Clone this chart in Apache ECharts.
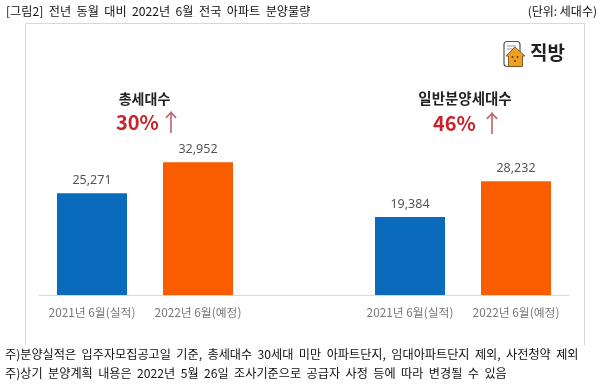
<!DOCTYPE html>
<html><head><meta charset="utf-8">
<style>html,body{margin:0;padding:0;background:#fff}#c{width:600px;height:386px}</style>
<script src="https://cdn.jsdelivr.net/npm/echarts@6/dist/echarts.min.js"></script>
</head><body><div id="c"></div>
<script>
const categories = ['2021년 6월(실적)', '2022년 6월(예정)', '', '2021년 6월(실적)', '2022년 6월(예정)'];
const values = [25271, 32952, null, 19384, 28232];
const barColors = ['#0a6bbd', '#fa5c00', '#fff', '#0a6bbd', '#fa5c00'];
const titleText = '[그림2]  전년  동월  대비  2022년  6월  전국  아파트  분양물량';
const unitText = '(단위: 세대수)';
const noteLines = ['주)분양실적은  입주자모집공고일  기준,  총세대수  30세대  미만  아파트단지,  임대아파트단지  제외,  사전청약  제외',
                   '주)상기  분양계획  내용은  2022년  5월  26일  조사기준으로  공급자  사정  등에  따라  변경될  수  있음'];
const KR = '"Noto Sans CJK KR","Noto Sans",sans-serif';
const chart = echarts.init(document.getElementById('c'), null, {renderer:'canvas'});
function txt(x,y,text,size,color,weight,align){
  return {type:'text',x,y,z:5,style:{text,fontSize:size,fill:color,fontWeight:weight||'normal',fontFamily:KR,
    align:align||'left',verticalAlign:'middle'}};
}
chart.setOption({
  animation:false,
  backgroundColor:'#fff',
  grid:{left:39,right:31,top:134,bottom:91,containLabel:false},
  xAxis:{type:'category',data:categories,
    axisLine:{lineStyle:{color:'#d9d9d9',width:1}},axisTick:{show:false},
    axisLabel:{color:'#777',fontSize:11.8,fontFamily:KR,margin:12,interval:0}},
  yAxis:{type:'value',min:0,max:40000,show:false,splitLine:{show:false}},
  series:[{type:'bar',barWidth:70,
    data:values.map((v,i)=>({value:v,itemStyle:{color:barColors[i]}})),
    label:{show:true,position:'top',distance:6,color:'#555',fontSize:12.5,fontFamily:'"Noto Sans",sans-serif',
      formatter:p=>p.value==null?'':Number(p.value).toLocaleString('en-US')}}],
  graphic:[
    {type:'polyline',z:1,shape:{points:[[25.5,345],[25.5,23.5],[584.5,23.5],[584.5,345]]},style:{fill:null,stroke:'#d8d8d8',lineWidth:1}},
    txt(6,11,titleText,12.15,'#111'),
    txt(597,11,unitText,12,'#111',null,'right'),
    // logo
    {type:'rect',z:5,shape:{x:504,y:41.5,width:16,height:25,r:3},style:{fill:'#fff',stroke:'#555',lineWidth:1.2}},
    {type:'line',z:5,shape:{x1:507,y1:46,x2:516,y2:46},style:{stroke:'#999',lineWidth:1}},
    {type:'line',z:5,shape:{x1:507,y1:49,x2:513,y2:49},style:{stroke:'#999',lineWidth:1}},
    {type:'polygon',z:6,shape:{points:[[515,47],[525,56],[522.5,56],[522.5,66.5],[508.5,66.5],[508.5,56],[506,56]]},style:{fill:'#f0a020',stroke:'#6b5320',lineWidth:.9,lineJoin:'round'}},
    {type:'circle',z:7,shape:{cx:512.5,cy:57,r:1},style:{fill:'#5a3c10'}},
    {type:'circle',z:7,shape:{cx:517.5,cy:57,r:1},style:{fill:'#5a3c10'}},
    {type:'circle',z:7,shape:{cx:515,cy:61,r:1},style:{fill:'#5a3c10'}},
    txt(530,53,'직방',19,'#222','bold'),
    txt(144.5,99,'총세대수',14,'#222','bold','center'),
    txt(116,122,'30%',20,'#c8232a','bold'),
    txt(171,122,'↑',24,'#bd6a70','normal','center'),
    txt(465,98,'일반분양세대수',14.5,'#222','bold','center'),
    txt(433,123,'46%',20,'#c8232a','bold'),
    txt(492,123,'↑',24,'#bd6a70','normal','center'),
    txt(5,354,noteLines[0],12.15,'#111'),
    txt(5,373,noteLines[1],12.15,'#111')
  ]
});
</script></body></html>
